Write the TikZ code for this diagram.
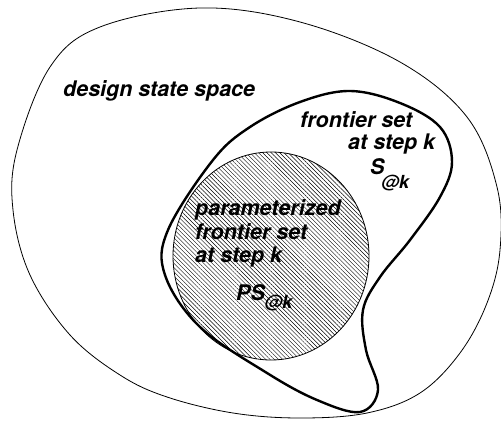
\documentclass[tikz,border=0pt]{standalone}
\usepackage{fontspec}
\setmainfont{TeX Gyre Heros}
\usetikzlibrary{patterns.meta}

\begin{document}
\begin{tikzpicture}[x=1pt, y=-1pt,
    lbl/.style={anchor=base west, inner sep=0pt, font=\fontsize{21.5}{23}\selectfont\bfseries\itshape},
    hatch/.style={pattern={Lines[angle=-45, distance=3pt, line width=0.45pt]}}]
            \useasboundingbox (0,0) rectangle (501,433);

            % design state space
            \draw[line width=0.8pt] plot[smooth cycle, tension=0.6] coordinates {
                (100,27) (200,8) (300,22) (400,62) (467,117) (497,187) (500,250)
                (487,303) (460,353) (420,393) (367,413) (300,418) (233,413)
                (167,397) (120,375) (70,335) (30,275) (13,210) (17,150) (50,67)};

            % frontier set
            \draw[line width=2.4pt] plot[smooth cycle, tension=0.6] coordinates {
                (350,91) (400,103) (440,127) (452,162) (440,197) (410,240)
                (380,277) (363,310) (366,350) (378,390) (360,412) (317,400)
                (267,373) (200,327) (165,275) (168,230) (213,160) (250,127) (300,102)};

            % parameterized frontier set
            \draw[line width=0.8pt, hatch] (271,256) ellipse [x radius=98, y radius=104];

            \node[lbl] (D) at (63,97) {design state space};
            \node[lbl] (F1) at (300,128) {frontier set};
            \node[lbl] (F2) at (348,150) {at step k};
            \node[lbl] (S) at (370,175) {S\kern-3pt\raisebox{-14pt}{\fontsize{18}{18}\selectfont @k}};
            \node[lbl] (P1) at (195,215) {parameterized};
            \node[lbl] (P2) at (195,239) {frontier set};
            \node[lbl] (P3) at (195,262) {at step k};
            \node[lbl] (PS) at (236,300) {PS\raisebox{-8pt}{\fontsize{18}{18}\selectfont @k}};
        \end{tikzpicture}
\end{document}
